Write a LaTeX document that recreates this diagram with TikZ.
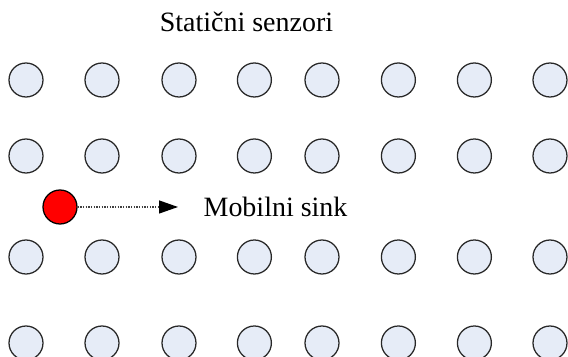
\documentclass[tikz,border=0pt]{standalone}
\usepackage{fontspec}
\setmainfont{Liberation Serif}
\usetikzlibrary{arrows.meta}

\definecolor{sensorfill}{RGB}{230,236,247}
\definecolor{sensordraw}{RGB}{40,40,40}

\begin{document}
\begin{tikzpicture}[%
    every path/.style = {line width = 0.9pt},
    sensor/.style = {circle, draw = sensordraw, fill = sensorfill,
        minimum size = 0.85cm, inner sep = 0pt},
    sinknode/.style = {circle, draw = black, fill = red,
        minimum size = 0.85cm, inner sep = 0pt},
    label/.style = {inner sep = 0pt, font = \fontsize{19.9}{24}\selectfont}
]

        % Fix the size of the page.
        \useasboundingbox (0.0, 0.0) rectangle (14.2, 8.925);

        % Coordinates for the arrow end and the labels.
        \coordinate (A0) at (4.45, 3.75);
        \coordinate (T0) at (6.1625, 8.125);
        \coordinate (T1) at (5.075, 3.5);

        % The static sensors, four rows of eight.
        \foreach \y [count = \r] in {6.925, 5.025, 2.5, 0.35} {
            \foreach \x [count = \c] in {0.65, 2.55, 4.475, 6.36, 8.05, 9.96, 11.86, 13.75} {
                \node[sensor] (s\r\c) at (\x, \y) {};
            }
        }

        % The mobile sink and where it moves.
        \node[sinknode] (sink) at (1.5, 3.75) {};
        \draw[densely dotted, black!75,
            -{Triangle[length = 0.475cm, width = 0.325cm, fill = black, color = black]}]
            (sink) to (A0);

        % Label everything.
        \node[label, anchor = base] (static) at (T0) {Statični senzori};
        \node[label, anchor = base west] (mobile) at (T1) {Mobilni sink};
    \end{tikzpicture}
\end{document}
